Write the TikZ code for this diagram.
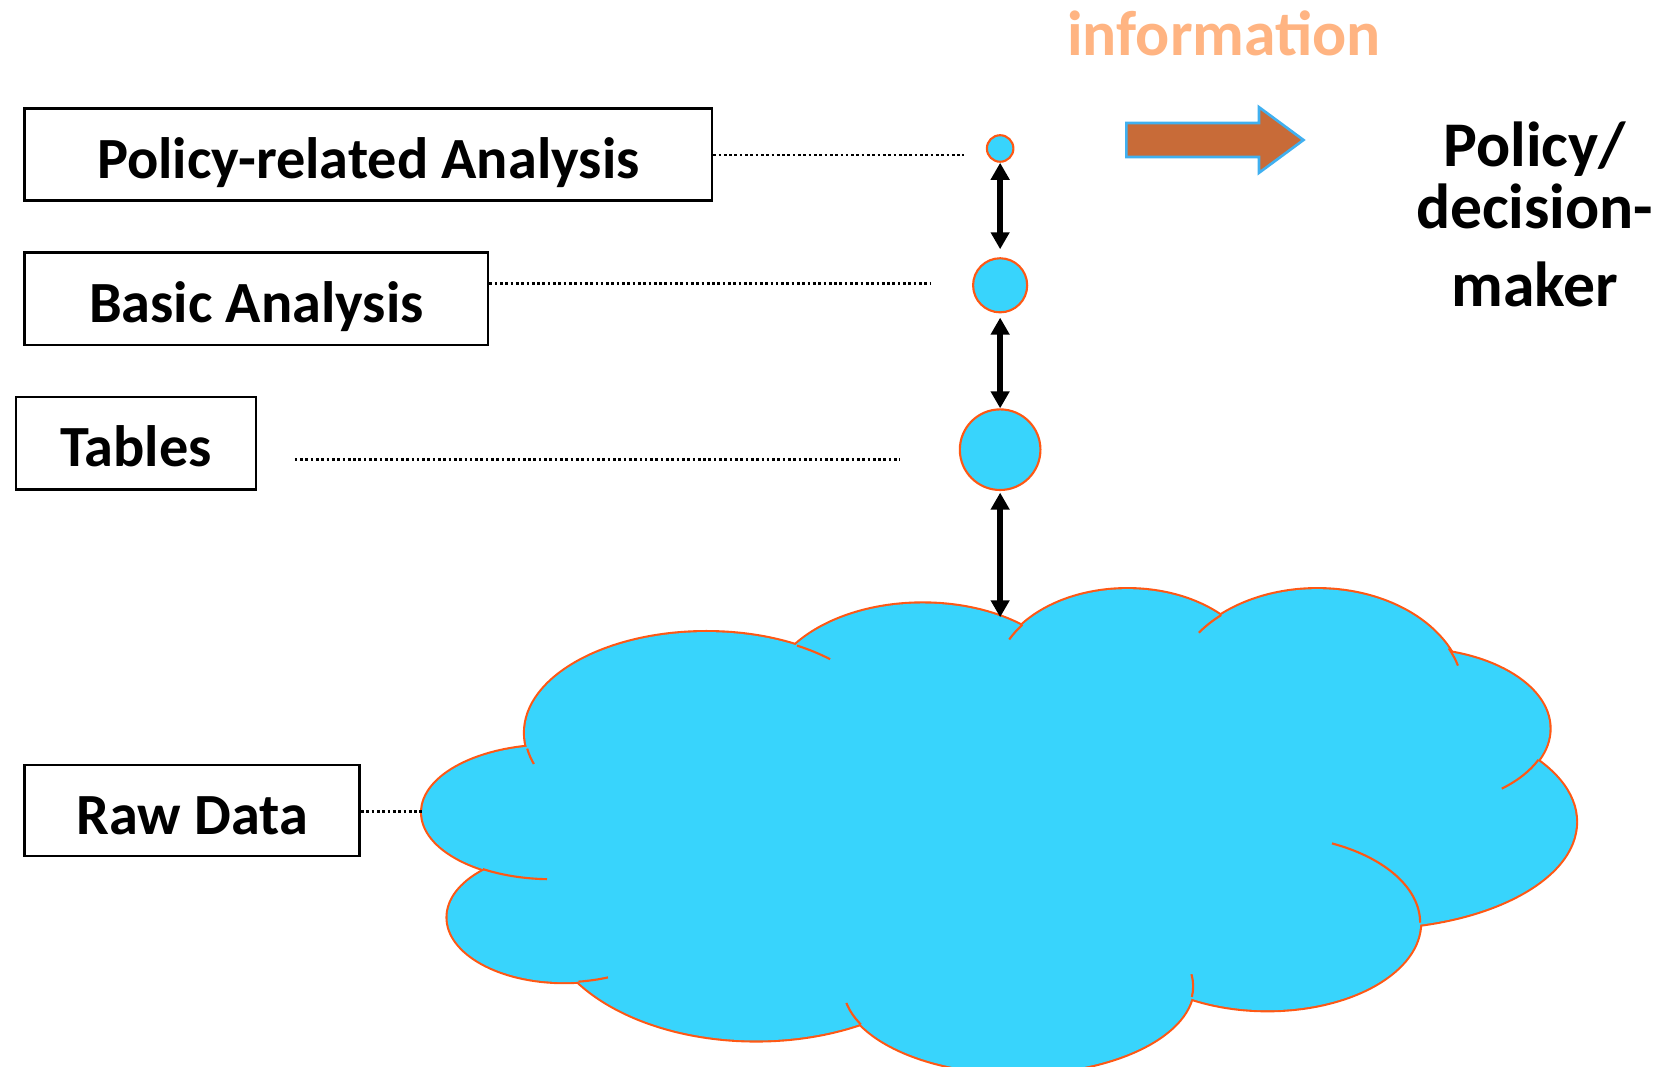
\documentclass[tikz,border=0pt]{standalone}
\usepackage{fontspec}
\setmainfont{Carlito}
\usetikzlibrary{arrows.meta}
\definecolor{cloudblue}{RGB}{56,212,252}
\definecolor{rimorange}{RGB}{255,88,20}
\definecolor{infoorange}{RGB}{255,180,130}
\definecolor{arrowbrown}{RGB}{200,107,56}
\definecolor{arrowrim}{RGB}{64,176,240}
\tikzset{
  labelbox/.style={draw=black, line width=2.5pt, inner sep=0pt, anchor=north west,
    font=\fontsize{55}{60}\selectfont\bfseries, text height=45pt, text depth=0pt},
  bubble/.style={circle, draw=rimorange, fill=cloudblue, line width=2pt, inner sep=0pt},
  link/.style={<->, >={Triangle[width=17pt,length=16pt]}, line width=5pt},
  dotline/.style={line width=2.5pt, dash pattern=on 2.5pt off 2.5pt},
  cloudrim/.style={draw=rimorange, line width=2pt},
  bigarrow/.style={fill=arrowbrown, draw=arrowrim, line width=2.5pt, line join=miter},
  sidetext/.style={font=\fontsize{60}{58}\selectfont\bfseries, align=center, inner sep=0pt}
}

\begin{document}
\begin{tikzpicture}[x=1pt,y=1pt,yscale=-1,xscale=1]
\useasboundingbox (0,0) rectangle (1568,1006);

% Cloud: thick rim of every lobe first, then the fill on top
\foreach \cx/\cy/\rx/\ry in {520/766/122/63, 666/691/171/95, 870/660/146/91, 1063/640/124/84.5,
    1242/655/138/99.5, 1330/687/131/75, 1290/775/196/100, 1195/870/144/82.5,
    960/930/165/82, 713/860/200/121, 532/865/110/61}
  \draw [rimorange, line width=4pt] (\cx,\cy) ellipse [x radius=\rx, y radius=\ry];
\foreach \cx/\cy/\rx/\ry in {520/766/122/63, 666/691/171/95, 870/660/146/91, 1063/640/124/84.5,
    1242/655/138/99.5, 1330/687/131/75, 1290/775/196/100, 1195/870/144/82.5,
    960/930/165/82, 713/860/200/121, 532/865/110/61, 940/770/330/150}
  \fill [cloudblue] (\cx,\cy) ellipse [x radius=\rx, y radius=\ry];
% inner arcs of the cloud
\foreach \cx/\cy/\rx/\ry/\a/\b in {666/691/171/95/171/162, 666/691/171/95/-60/-47,
    1063/640/124/84.5/217/206, 1242/655/138/99.5/229/216, 1242/655/138/99.5/-26/-16,
    1330/687/131/75/23/49, 1195/870/144/82.5/-65/0, 960/930/165/82/7/-8,
    960/930/165/82/154/169, 532/865/110/61/83/68, 520/766/122/63/122/92}
  \draw [cloudrim] (\cx,\cy) ++({\rx*cos(\a)},{\ry*sin(\a)}) arc [start angle=\a, end angle=\b, x radius=\rx, y radius=\ry];
\coordinate (cloudtop) at (943,582);

% Text Node
\node [labelbox, minimum width=648pt, minimum height=87pt] (policy) at (22,101) {Policy-related Analysis};
\node [labelbox, minimum width=437pt, minimum height=87pt] (basic) at (22,237) {Basic Analysis};
\node [labelbox, minimum width=226pt, minimum height=87pt] (tables) at (14,373) {Tables};
\node [labelbox, minimum width=316pt, minimum height=86pt] (raw) at (22,720) {Raw Data};

% Circles
\node [bubble, minimum size=25pt] (c1) at (943,140) {};
\node [bubble, minimum size=51pt] (c2) at (943,269) {};
\node [bubble, minimum size=76pt] (c3) at (943,424) {};

%Straight Lines
\coordinate (e1) at (909,146);
\coordinate (e2) at (878,267);
\coordinate (s3) at (278,433);
\coordinate (e3) at (849,433);
\coordinate (e4) at (398,765);
\draw [dotline] (policy.east |- e1) -- (e1);
\draw [dotline] (basic.east |- e2) -- (e2);
\draw [dotline] (s3) -- (e3);
\draw [dotline] (raw.east |- e4) -- (e4);

\draw [link, shorten >=7.5pt] (c1.south) -- (c2.north);
\draw [link, shorten <=4pt] (c2.south) -- (c3.north);
\draw [link, shorten <=1.5pt] (c3.south) -- (cloudtop);

% Block arrow
\draw [bigarrow] (1062,116) -- (1187,116) -- (1187,101) -- (1229,132) -- (1187,163) -- (1187,148) -- (1062,148) -- cycle;

% Text Node
\node [sidetext, anchor=north] (maker) at (1447,115) {Policy/\\decision-\\[16pt]maker};
\node [font=\fontsize{60}{60}\selectfont\bfseries, text=infoorange, anchor=base, inner sep=0pt] (info) at (1154,52) {information};

\end{tikzpicture}
\end{document}
